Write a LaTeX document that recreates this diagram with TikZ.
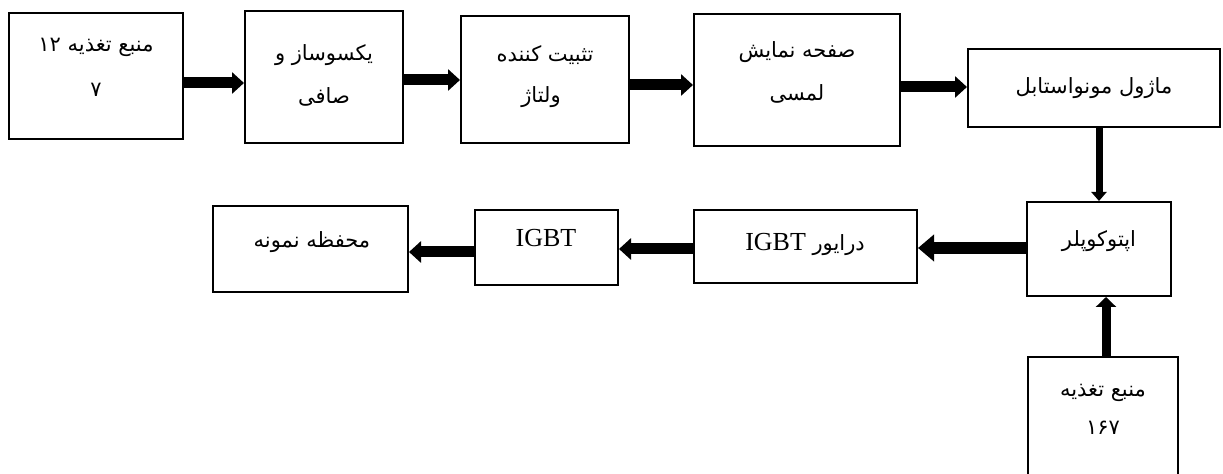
\documentclass[tikz,border=0pt]{standalone}
\usepackage{fontspec}
\setmainfont{Liberation Serif}
\newfontfamily\arabicfont[Script=Arabic]{DejaVu Sans}
\TeXXeTstate=1
\usetikzlibrary{arrows.meta}
\begin{document}
\begin{tikzpicture}[x=0.5pt,y=-0.5pt,
  box/.style={draw, line width=1pt, inner sep=0pt},
  lbl/.style={inner sep=0pt, font=\arabicfont\fontsize{10.5}{12}\selectfont},
  lat/.style={inner sep=0pt, font=\fontsize{13}{15}\selectfont},
  arr/.style={line width=5.5pt, -{Triangle[length=6pt,width=10.5pt]}},
  arrthin/.style={line width=3.5pt, -{Triangle[length=4.5pt,width=7.5pt]}},
  arrup/.style={line width=4.5pt, -{Triangle[length=5pt,width=10pt]}},
  arrbig/.style={line width=6pt, -{Triangle[length=8pt,width=13pt]}}]
\useasboundingbox[fill=white] (0,0) rectangle (1223,474);
% boxes
\node[box, minimum width=87pt, minimum height=63pt] (b1) at (96,76) {};
\node[box, minimum width=79pt, minimum height=66pt] (b2) at (324,77) {};
\node[box, minimum width=84pt, minimum height=63.5pt] (b3) at (545,79.5) {};
\node[box, minimum width=103pt, minimum height=66pt] (b4) at (797,80) {};
\node[box, minimum width=126pt, minimum height=39pt] (b5) at (1094,88) {};
\node[box, minimum width=72pt, minimum height=47pt] (opto) at (1099,249) {};
\node[box, minimum width=111.5pt, minimum height=36.5pt] (drv) at (805.5,246.5) {};
\node[box, minimum width=71.5pt, minimum height=37.5pt] (igbt) at (546.5,247.5) {};
\node[box, minimum width=97.5pt, minimum height=43pt] (smp) at (310.5,249) {};
\node[box, minimum width=75pt, minimum height=66.5pt] (pw) at (1103,423.5) {};
% labels
\node[lbl] (t1a) at (96,47) {\beginR منبع تغذیه \beginL ۱۲\endL\endR};
\node[lbl] (t1b) at (96,90) {۷};
\node[lbl] (t2a) at (324,55) {\beginR یکسوساز و\endR};
\node[lbl] (t2b) at (324,97) {\beginR صافی\endR};
\node[lbl] (t3a) at (545,55) {\beginR تثبیت کننده\endR};
\node[lbl] (t3b) at (541,97) {\beginR ولتاژ\endR};
\node[lbl] (t4a) at (797,52) {\beginR صفحه نمایش\endR};
\node[lbl] (t4b) at (797,94) {\beginR لمسی\endR};
\node[lbl] (t5) at (1094,88) {\beginR ماژول مونواستابل\endR};
\node[lbl] (to) at (1099,241) {\beginR اپتوکوپلر\endR};
\node[lbl] (td) at (805,244) {\beginR درایور \beginL{\rmfamily\fontsize{13}{15}\selectfont IGBT}\endL\endR};
\node[lat] (ti) at (546,238) {IGBT};
\node[lbl] (ts) at (312,242) {\beginR محفظه نمونه\endR};
\node[lbl] (tpa) at (1103,393) {\beginR منبع تغذیه\endR};
\node[lbl] (tpb) at (1103,428) {\beginL ۱۶۷\endL};
% arrows
\draw[arr] (b1.east |- 0,83) -- (b2.west |- 0,83);
\draw[arr] (b2.east |- 0,80) -- (b3.west |- 0,80);
\draw[arr] (b3.east |- 0,85) -- (b4.west |- 0,85);
\draw[arr] (b4.east |- 0,87) -- (b5.west |- 0,87);
\draw[arrthin] (b5.south -| opto.north) -- (opto.north);
\draw[arrup] (pw.north -| 1106,0) -- (opto.south -| 1106,0);
\draw[arrbig] (opto.west |- 0,248) -- (drv.east |- 0,248);
\draw[arr] (drv.west |- 0,249) -- (igbt.east |- 0,249);
\draw[arr] (igbt.west |- 0,252) -- (smp.east |- 0,252);
\end{tikzpicture}
\end{document}
